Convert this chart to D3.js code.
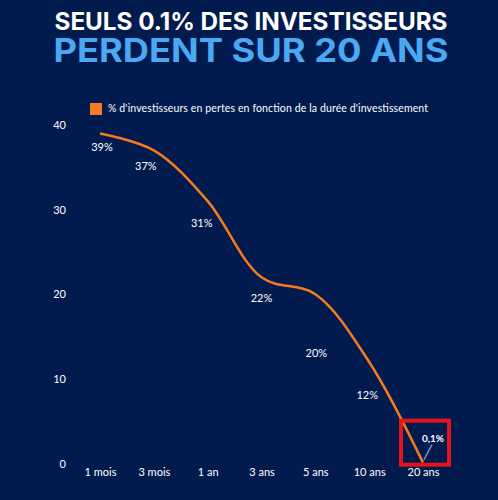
<!DOCTYPE html>
<html>
<head>
<meta charset="utf-8">
<style>
	body { margin: 0; background: #021b4e; }
	svg { display: block; font-family: Lato, sans-serif; }
	.axis path, .axis line { stroke: none; }
	.axis text { fill: #ffffff; font-size: 11px; font-family: Lato, sans-serif; }
	.lbl { fill: #ffffff; font-size: 11px; text-anchor: middle; }
</style>
<script src="https://d3js.org/d3.v7.min.js"></script>
</head>
<body>
<script>
// data
var durations = ['1 mois', '3 mois', '1 an', '3 ans', '5 ans', '10 ans', '20 ans'];
var lossShare = [39, 37, 31, 22, 20, 12, 0.1];
var valueLabels = ['39%', '37%', '31%', '22%', '20%', '12%', '0,1%'];
var yTicks = [0, 10, 20, 30, 40];
var legendText = "% d'investisseurs en pertes en fonction de la durée d'investissement";

var width = 498, height = 500;

var svg = d3.select('body').append('svg')
	.attr('width', width)
	.attr('height', height);

svg.append('rect')
	.attr('width', width).attr('height', height)
	.attr('fill', '#021b4e');

// title
svg.append('text')
	.attr('x', 251).attr('y', 30)
	.attr('text-anchor', 'middle')
	.attr('textLength', 393).attr('lengthAdjust', 'spacingAndGlyphs')
	.style('font-family', 'Inter, sans-serif')
	.style('font-weight', 700)
	.style('font-size', '24px')
	.attr('fill', '#ffffff')
	.text('SEULS 0.1% DES INVESTISSEURS');

svg.append('text')
	.attr('x', 251).attr('y', 62)
	.attr('text-anchor', 'middle')
	.attr('textLength', 395).attr('lengthAdjust', 'spacingAndGlyphs')
	.style('font-family', 'Inter, sans-serif')
	.style('font-weight', 700)
	.style('font-size', '32px')
	.attr('fill', '#4aa8f4')
	.text('PERDENT SUR 20 ANS');

// legend
svg.append('rect')
	.attr('x', 90).attr('y', 103)
	.attr('width', 12).attr('height', 12)
	.attr('fill', '#f47b1f');

svg.append('text')
	.attr('x', 108).attr('y', 112)
	.attr('fill', '#ffffff')
	.attr('textLength', 320)
	.style('font-size', '10.5px')
	.text(legendText);

// scales
var x = d3.scalePoint()
	.domain(durations)
	.range([100, 423]);

var y = d3.scaleLinear()
	.domain([0, 40])
	.range([463.5, 125]);

svg.append('g')
	.attr('class', 'axis')
	.attr('transform', 'translate(70,0)')
	.call(d3.axisLeft(y).tickValues(yTicks).tickSize(0).tickPadding(4));

svg.append('g')
	.attr('class', 'axis')
	.attr('transform', 'translate(0,466)')
	.call(d3.axisBottom(x).tickSize(0).tickPadding(2));

// line
var pts = durations.map(function(d, i) { return [x(d), y(lossShare[i])]; });

svg.append('path')
	.datum(pts)
	.attr('fill', 'none')
	.attr('stroke', '#f47b1f')
	.attr('stroke-width', 2.5)
	.attr('d', d3.line().curve(d3.curveCatmullRom.alpha(0.5)));

// value labels (placed under the curve, nudged by hand like the original)
var labelDx = [2, -8, -6, 0, 1, -2];
var labelDy = [18, 20, 26, 25, 63, 37];

svg.selectAll('.lbl')
	.data(durations.slice(0, 6))
	.enter().append('text')
	.attr('class', 'lbl')
	.attr('x', function(d, i) { return x(d) + labelDx[i]; })
	.attr('y', function(d, i) { return y(lossShare[i]) + labelDy[i]; })
	.text(function(d, i) { return valueLabels[i]; });

// highlight on the last point
var lx = x(durations[6]), ly = y(lossShare[6]);

svg.append('rect')
	.attr('x', lx - 22).attr('y', ly - 42)
	.attr('width', 48).attr('height', 44)
	.attr('fill', 'none')
	.attr('stroke', '#e3141c')
	.attr('stroke-width', 4);

svg.append('line')
	.attr('x1', lx + 1).attr('y1', ly - 3)
	.attr('x2', lx + 9).attr('y2', ly - 18)
	.attr('stroke', '#7d8cba')
	.attr('stroke-width', 1.5);

svg.append('text')
	.attr('x', lx + 10).attr('y', ly - 21)
	.attr('text-anchor', 'middle')
	.attr('fill', '#ffffff')
	.style('font-size', '10px')
	.style('font-weight', 700)
	.text(valueLabels[6]);
</script>
</body>
</html>
